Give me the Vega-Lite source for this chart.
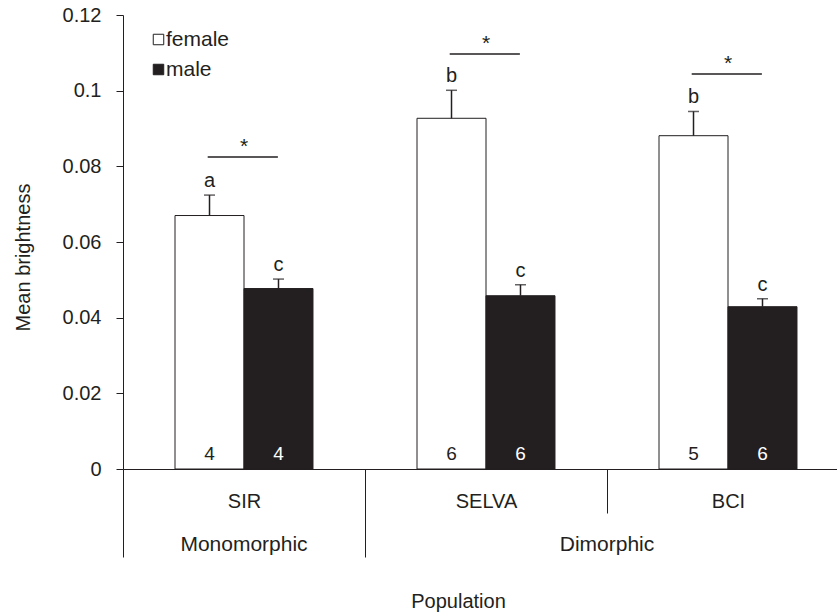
{
  "$schema": "https://vega.github.io/schema/vega-lite/v6.json",
  "autosize": {"type": "none"},
  "padding": {"left": 123, "top": 15, "right": 0, "bottom": 144},
  "width": 714,
  "height": 454,
  "background": "white",
  "config": {
    "font": "Liberation Sans",
    "view": {"stroke": null},
    "axis": {"grid": false, "domainColor": "#231f20", "tickColor": "#231f20", "labelColor": "#231f20", "titleColor": "#231f20", "labelFont": "Liberation Sans", "titleFont": "Liberation Sans", "titleFontWeight": "normal", "labelFontSize": 20, "titleFontSize": 20, "domainWidth": 1, "tickWidth": 1}
  },
  "datasets": {
    "bars": [
      {"population": "SIR", "sex": "female", "mean": 0.0670, "err": 0.0724, "letter": "a", "n": "4"},
      {"population": "SIR", "sex": "male", "mean": 0.0477, "err": 0.0502, "letter": "c", "n": "4"},
      {"population": "SELVA", "sex": "female", "mean": 0.0927, "err": 0.1001, "letter": "b", "n": "6"},
      {"population": "SELVA", "sex": "male", "mean": 0.0458, "err": 0.0487, "letter": "c", "n": "6"},
      {"population": "BCI", "sex": "female", "mean": 0.0881, "err": 0.0945, "letter": "b", "n": "5"},
      {"population": "BCI", "sex": "male", "mean": 0.0429, "err": 0.0450, "letter": "c", "n": "6"}
    ],
    "sig": [
      {"population": "SIR", "level": 0.0825, "star": "*"},
      {"population": "SELVA", "level": 0.1097, "star": "*"},
      {"population": "BCI", "level": 0.1044, "star": "*"}
    ],
    "groups": [
      {"group": "Monomorphic", "anchor": "SIR"},
      {"group": "Dimorphic", "anchor": "BCI"}
    ]
  },
  "layer": [
    {
      "data": {"name": "bars"},
      "mark": {"type": "bar", "stroke": "#231f20", "strokeWidth": 1},
      "encoding": {
        "x": {
          "field": "population", "type": "nominal",
          "scale": {"domain": ["SIR", "SELVA", "BCI"], "range": [0, 726], "paddingInner": 0, "paddingOuter": 0},
          "axis": {
            "title": "Population",
            "labelAngle": 0,
            "tickBand": "extent",
            "tickSize": {"condition": {"test": "datum.value !== 'SELVA'", "value": 88}, "value": 44},
            "labelPadding": {"condition": {"test": "datum.value !== 'SELVA'", "value": -65.5}, "value": -21.5},
            "titlePadding": 34,
            "titleX": 335
          }
        },
        "xOffset": {"field": "sex", "type": "nominal", "scale": {"domain": ["female", "male"], "paddingOuter": 0.754, "paddingInner": 0}},
        "y": {
          "field": "mean", "type": "quantitative",
          "scale": {"domain": [0, 0.12], "nice": false, "zero": true},
          "axis": {"title": "Mean brightness", "values": [0, 0.02, 0.04, 0.06, 0.08, 0.1, 0.12], "format": "~g", "tickSize": 7, "labelPadding": 15, "titlePadding": 29, "titleY": 242}
        },
        "fill": {
          "field": "sex", "type": "nominal",
          "scale": {"domain": ["female", "male"], "range": ["#ffffff", "#231f20"]},
          "legend": {"title": null, "orient": "none", "legendX": 25, "legendY": 14, "padding": 0, "symbolType": "square", "symbolSize": 110, "symbolStrokeColor": "#231f20", "symbolStrokeWidth": 1, "labelFontSize": 21, "labelFont": "Liberation Sans", "labelColor": "#231f20", "labelOffset": -3, "rowPadding": 8}
        }
      }
    },
    {
      "data": {"name": "bars"},
      "mark": {"type": "rule", "color": "#231f20", "strokeWidth": 1.5},
      "encoding": {
        "x": {"field": "population", "type": "nominal"},
        "xOffset": {"field": "sex", "type": "nominal"},
        "y": {"field": "mean", "type": "quantitative"},
        "y2": {"field": "err"}
      }
    },
    {
      "data": {"name": "bars"},
      "mark": {"type": "tick", "orient": "horizontal", "size": 11, "thickness": 1.5, "color": "#231f20"},
      "encoding": {
        "x": {"field": "population", "type": "nominal"},
        "xOffset": {"field": "sex", "type": "nominal"},
        "y": {"field": "err", "type": "quantitative"}
      }
    },
    {
      "data": {"name": "bars"},
      "mark": {"type": "text", "baseline": "alphabetic", "dy": -8, "fontSize": 20, "color": "#231f20"},
      "encoding": {
        "x": {"field": "population", "type": "nominal"},
        "xOffset": {"field": "sex", "type": "nominal"},
        "y": {"field": "err", "type": "quantitative"},
        "text": {"field": "letter"}
      }
    },
    {
      "data": {"name": "bars"},
      "mark": {"type": "text", "baseline": "alphabetic", "dy": -9, "fontSize": 19},
      "encoding": {
        "x": {"field": "population", "type": "nominal"},
        "xOffset": {"field": "sex", "type": "nominal"},
        "y": {"datum": 0},
        "text": {"field": "n"},
        "color": {"condition": {"test": "datum.sex === 'male'", "value": "#ffffff"}, "value": "#231f20"}
      }
    },
    {
      "data": {"name": "sig"},
      "mark": {"type": "rule", "color": "#231f20", "strokeWidth": 1.5},
      "encoding": {
        "x": {"field": "population", "type": "nominal", "bandPosition": 0.35},
        "x2": {"field": "population", "bandPosition": 0.64},
        "y": {"field": "level", "type": "quantitative"}
      }
    },
    {
      "data": {"name": "sig"},
      "mark": {"type": "text", "baseline": "alphabetic", "dy": -4, "fontSize": 21, "color": "#231f20"},
      "encoding": {
        "x": {"field": "population", "type": "nominal"},
        "y": {"field": "level", "type": "quantitative"},
        "text": {"field": "star"}
      }
    },
    {
      "data": {"name": "groups"},
      "transform": [{"filter": "datum.group === 'Monomorphic'"}],
      "mark": {"type": "text", "baseline": "middle", "dy": 76, "fontSize": 21, "color": "#231f20"},
      "encoding": {
        "x": {"field": "anchor", "type": "nominal", "bandPosition": 0.5},
        "y": {"datum": 0},
        "text": {"field": "group"}
      }
    },
    {
      "data": {"name": "groups"},
      "transform": [{"filter": "datum.group === 'Dimorphic'"}],
      "mark": {"type": "text", "baseline": "middle", "dy": 76, "fontSize": 21, "color": "#231f20"},
      "encoding": {
        "x": {"field": "anchor", "type": "nominal", "bandPosition": 0},
        "y": {"datum": 0},
        "text": {"field": "group"}
      }
    }
  ]
}
